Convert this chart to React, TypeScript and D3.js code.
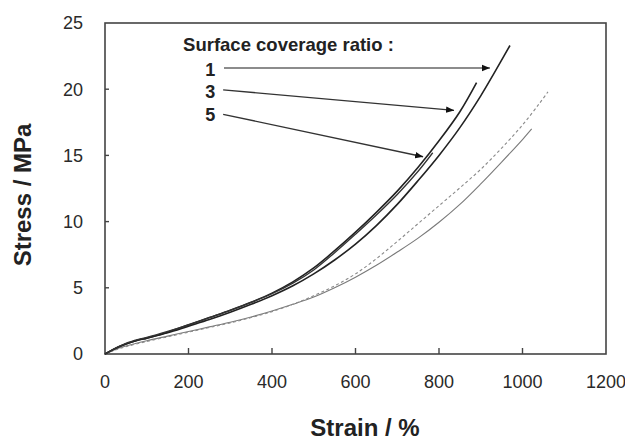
import React, { useRef, useEffect } from 'react';
import * as d3 from 'd3';

// strain (%) / stress (MPa)
const ratio1 = [
  [0, 0], [20, 0.35], [50, 0.75], [80, 1.05], [100, 1.2], [150, 1.6], [200, 2.1],
  [250, 2.6], [300, 3.15], [350, 3.75], [400, 4.4], [450, 5.15], [500, 6.05],
  [550, 7.1], [600, 8.3], [650, 9.7], [700, 11.3], [750, 13.1], [800, 15.0],
  [850, 17.1], [900, 19.5], [930, 21.1], [970, 23.3]
];
const ratio3 = [
  [0, 0], [20, 0.35], [50, 0.75], [80, 1.05], [100, 1.2], [150, 1.65], [200, 2.2],
  [250, 2.75], [300, 3.3], [350, 3.9], [400, 4.6], [450, 5.45], [500, 6.5],
  [550, 7.8], [600, 9.2], [650, 10.7], [700, 12.3], [750, 14.1], [800, 16.1],
  [850, 18.3], [890, 20.5]
];
const ratio5 = [
  [0, 0], [20, 0.35], [50, 0.8], [80, 1.1], [100, 1.25], [150, 1.7], [200, 2.2],
  [250, 2.75], [300, 3.3], [350, 3.9], [400, 4.55], [450, 5.35], [500, 6.35],
  [550, 7.65], [600, 9.05], [650, 10.5], [700, 12.05], [750, 13.8], [785, 15.2]
];
const greyDashed = [
  [0, 0], [25, 0.3], [50, 0.55], [100, 0.95], [150, 1.3], [200, 1.65], [250, 2.0],
  [300, 2.35], [350, 2.75], [400, 3.2], [450, 3.75], [500, 4.4], [550, 5.15],
  [600, 6.05], [650, 7.2], [700, 8.5], [750, 9.85], [800, 11.2], [850, 12.55],
  [900, 13.95], [950, 15.55], [1000, 17.3], [1040, 18.9], [1061, 19.8]
];
const greySolid = [
  [0, 0], [25, 0.35], [50, 0.6], [100, 1.0], [150, 1.35], [200, 1.7], [250, 2.05],
  [300, 2.4], [350, 2.8], [400, 3.25], [450, 3.75], [500, 4.3], [550, 5.0],
  [600, 5.8], [650, 6.7], [700, 7.7], [750, 8.75], [800, 9.95], [850, 11.3],
  [900, 12.85], [950, 14.5], [1000, 16.2], [1022, 17.0]
];

const xTicks = [0, 200, 400, 600, 800, 1000, 1200];
const yTicks = [0, 5, 10, 15, 20, 25];

// annotation: label, arrow start, arrow tip (data units)
const arrowLabels = ['1', '3', '5'];
const arrowStarts = [[285, 21.6], [283, 19.95], [283, 18.1]];
const arrowTips = [[922, 21.6], [836, 18.4], [762, 14.9]];
const labelStress = [21.5, 19.8, 18.05];
const legendTitle = 'Surface coverage ratio :';

const W = 625, H = 440;
const margin = { left: 105, right: 19, top: 23, bottom: 86 };
const FONT = 'Arial, "Liberation Sans", Helvetica, sans-serif';

const App = () => {
  const svgRef = useRef(null);

  useEffect(() => {
    const svg = d3.select(svgRef.current);
    svg.selectAll('*').remove();

    const x = d3.scaleLinear().domain([0, 1200]).range([margin.left, W - margin.right]);
    const y = d3.scaleLinear().domain([0, 25]).range([H - margin.bottom, margin.top]);

    svg.append('defs').append('marker')
      .attr('id', 'head')
      .attr('viewBox', '0 0 10 10')
      .attr('refX', 10).attr('refY', 5)
      .attr('markerWidth', 8).attr('markerHeight', 8)
      .attr('markerUnits', 'userSpaceOnUse')
      .attr('orient', 'auto')
      .append('path').attr('d', 'M0,1 L10,5 L0,9 Z').attr('fill', '#111');

    // frame
    svg.append('rect')
      .attr('x', x(0)).attr('y', y(25))
      .attr('width', x(1200) - x(0)).attr('height', y(0) - y(25))
      .attr('fill', 'none').attr('stroke', '#444').attr('stroke-width', 1.6);

    // ticks (inside)
    svg.selectAll('.yt').data(yTicks.filter(d => d > 0 && d < 25)).enter().append('line')
      .attr('x1', x(0)).attr('x2', x(0) + 4)
      .attr('y1', d => y(d)).attr('y2', d => y(d))
      .attr('stroke', '#444').attr('stroke-width', 1.4);
    svg.selectAll('.xt').data(xTicks.filter(d => d > 0 && d < 1200)).enter().append('line')
      .attr('x1', d => x(d)).attr('x2', d => x(d))
      .attr('y1', y(0)).attr('y2', y(0) - 6)
      .attr('stroke', '#444').attr('stroke-width', 1.4);

    svg.selectAll('.yl').data(yTicks).enter().append('text')
      .attr('x', 83).attr('y', d => y(d)).attr('dy', '0.35em')
      .attr('text-anchor', 'end')
      .style('font', `18px ${FONT}`).attr('fill', '#2a2a2a')
      .text(d => d);
    svg.selectAll('.xl').data(xTicks).enter().append('text')
      .attr('x', d => x(d)).attr('y', 388)
      .attr('text-anchor', 'middle')
      .style('font', `18px ${FONT}`).attr('fill', '#2a2a2a')
      .text(d => d);

    svg.append('text')
      .attr('x', 365).attr('y', 436)
      .attr('text-anchor', 'middle')
      .style('font', `bold 24px ${FONT}`).attr('fill', '#222')
      .text('Strain / %');
    svg.append('text')
      .attr('transform', 'translate(31,195) rotate(-90)')
      .attr('text-anchor', 'middle')
      .style('font', `bold 24px ${FONT}`).attr('fill', '#222')
      .text('Stress / MPa');

    const line = d3.line()
      .x(d => x(d[0])).y(d => y(d[1]))
      .curve(d3.curveCatmullRom.alpha(0.5));

    const series = [
      { data: greySolid, stroke: '#7a7a7a', width: 1.1, dash: null },
      { data: greyDashed, stroke: '#8a8a8a', width: 1.1, dash: '3,2.5' },
      { data: ratio1, stroke: '#222', width: 1.6, dash: null },
      { data: ratio3, stroke: '#222', width: 1.6, dash: null },
      { data: ratio5, stroke: '#333', width: 1.3, dash: null }
    ];
    svg.selectAll('.curve').data(series).enter().append('path')
      .attr('d', d => line(d.data))
      .attr('fill', 'none')
      .attr('stroke', d => d.stroke)
      .attr('stroke-width', d => d.width)
      .attr('stroke-dasharray', d => d.dash);

    // legend / arrows
    svg.append('text')
      .attr('x', x(187)).attr('y', y(22.9))
      .style('font', `bold 18.5px ${FONT}`).attr('fill', '#222')
      .text(legendTitle);

    arrowLabels.forEach((lab, i) => {
      svg.append('text')
        .attr('x', x(252)).attr('y', y(labelStress[i])).attr('dy', '0.35em')
        .attr('text-anchor', 'middle')
        .style('font', `bold 18px ${FONT}`).attr('fill', '#222')
        .text(lab);
      svg.append('line')
        .attr('x1', x(arrowStarts[i][0])).attr('y1', y(arrowStarts[i][1]))
        .attr('x2', x(arrowTips[i][0])).attr('y2', y(arrowTips[i][1]))
        .attr('stroke', i === 0 ? '#666' : '#333')
        .attr('stroke-width', 1.4)
        .attr('marker-end', 'url(#head)');
    });
  }, []);

  return (
    <svg ref={svgRef} width={W} height={H}
      style={{ position: 'absolute', left: 0, top: 0, background: '#fff' }} />
  );
};

export default App;
